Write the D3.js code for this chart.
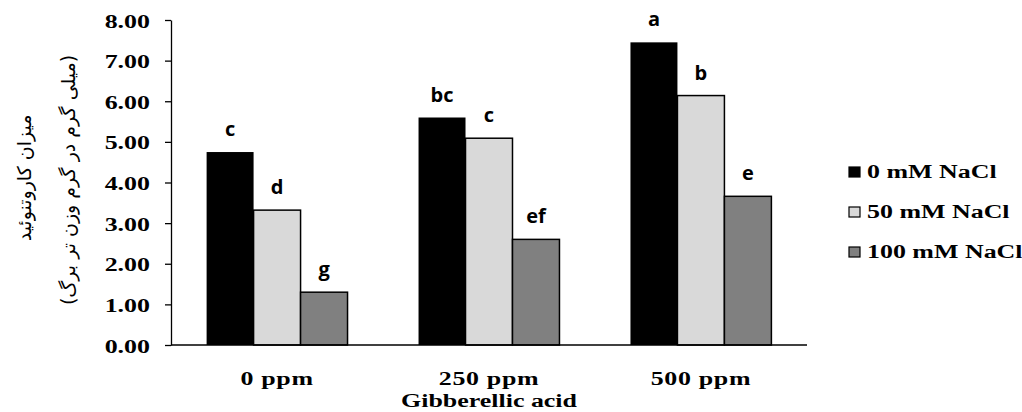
<!DOCTYPE html>
<html>
<head>
<meta charset="utf-8">
<script src="https://cdn.jsdelivr.net/npm/d3@7"></script>
<style>
  body { margin: 0; background: #fff; }
  svg { display: block; }
</style>
</head>
<body>
<svg width="1022" height="412"></svg>
<script>
// data
var groups = ["0 ppm", "250 ppm", "500 ppm"];
var series = ["0 mM NaCl", "50 mM NaCl", "100 mM NaCl"];
var colors = ["#000000", "#d9d9d9", "#808080"];
var values0 = [4.75, 5.60, 7.45];
var values50 = [3.32, 5.09, 6.14];
var values100 = [1.30, 2.60, 3.66];
var letters0 = ["c", "bc", "a"];
var letters50 = ["d", "c", "b"];
var letters100 = ["g", "ef", "e"];
var yTicks = [0, 1, 2, 3, 4, 5, 6, 7, 8];

var allValues = [values0, values50, values100];
var allLetters = [letters0, letters50, letters100];

var rows = [];
series.forEach(function(s, si) {
  groups.forEach(function(g, gi) {
    rows.push({group: g, series: s, si: si, value: allValues[si][gi], letter: allLetters[si][gi]});
  });
});

var sx = 1.33; // the original picture is stretched sideways
var serif = "'Liberation Serif', 'Times New Roman', serif";

var svg = d3.select("svg");

var y = d3.scaleLinear().domain([0, 8]).range([345, 20]);
var x0 = d3.scaleBand().domain(groups).range([171, 807])
  .paddingInner(0.335).paddingOuter(0.168);
var x1 = d3.scaleBand().domain(series).range([0, x0.bandwidth()]);

// bars
svg.append("g").selectAll("rect")
  .data(rows).enter().append("rect")
  .attr("x", function(d) { return x0(d.group) + x1(d.series); })
  .attr("y", function(d) { return y(d.value); })
  .attr("width", x1.bandwidth())
  .attr("height", function(d) { return y(0) - y(d.value); })
  .attr("fill", function(d) { return colors[d.si]; })
  .attr("stroke", "#000")
  .attr("stroke-width", function(d) { return d.si == 0 ? 0 : 1.5; });

// letters over the bars
svg.append("g").selectAll("text")
  .data(rows).enter().append("text")
  .attr("x", function(d) { return x0(d.group) + x1(d.series) + x1.bandwidth() / 2; })
  .attr("y", function(d) { return y(d.value) - 16; })
  .attr("text-anchor", "middle")
  .style("font-family", "'Open Sans', 'DejaVu Sans', sans-serif")
  .style("font-weight", "bold")
  .style("font-size", "20px")
  .text(function(d) { return d.letter; });

// y axis
var yAxis = svg.append("g")
  .attr("transform", "translate(171,0)")
  .call(d3.axisLeft(y).tickValues(yTicks).tickSizeOuter(0).tickPadding(0)
    .tickFormat(d3.format(".2f")));
yAxis.select(".domain").attr("stroke", "#000").attr("stroke-width", 1.3);
yAxis.selectAll(".tick line").attr("stroke", "#000").attr("stroke-width", 1.3);
yAxis.selectAll(".tick text")
  .attr("x", null).attr("dy", null)
  .attr("transform", "translate(-21,7) scale(" + sx + ",1)")
  .style("font-family", serif)
  .style("font-weight", "bold")
  .style("font-size", "19.5px")
  .attr("fill", "#000");

// x axis line
svg.append("line")
  .attr("x1", 171).attr("x2", 807)
  .attr("y1", y(0)).attr("y2", y(0))
  .attr("stroke", "#000").attr("stroke-width", 1.3);

// category labels
svg.append("g").selectAll("text")
  .data(groups).enter().append("text")
  .attr("transform", function(d) {
    return "translate(" + (x0(d) + x0.bandwidth() / 2) + ",385) scale(" + sx + ",1)";
  })
  .attr("text-anchor", "middle")
  .style("font-family", serif)
  .style("font-weight", "bold")
  .style("font-size", "19.5px")
  .style("letter-spacing", "0.5px")
  .text(function(d) { return d; });

svg.append("text")
  .attr("transform", "translate(" + (x0("250 ppm") + x0.bandwidth() / 2) + ",407) scale(" + sx + ",1)")
  .attr("text-anchor", "middle")
  .style("font-family", serif)
  .style("font-weight", "bold")
  .style("font-size", "19.5px")
  .text("Gibberellic acid");

// y titles (Persian)
svg.append("text")
  .attr("transform", "translate(31,178) rotate(-90)")
  .attr("text-anchor", "middle")
  .style("font-family", "'DejaVu Sans', sans-serif")
  .style("font-size", "19px")
  .text("میزان کاروتنوئید");

svg.append("text")
  .attr("transform", "translate(75,180) rotate(-90)")
  .attr("text-anchor", "middle")
  .style("font-family", "'DejaVu Sans', sans-serif")
  .style("font-size", "19px")
  .text("(میلی گرم در گرم وزن تر برگ)");

// legend
var legend = svg.append("g").selectAll("g")
  .data(series).enter().append("g")
  .attr("transform", function(d, i) { return "translate(849," + (167 + i * 40) + ")"; });
legend.append("rect")
  .attr("width", 11).attr("height", 10)
  .attr("fill", function(d, i) { return colors[i]; })
  .attr("stroke", "#000").attr("stroke-width", 1.2);
legend.append("text")
  .attr("transform", "translate(18,11) scale(" + sx + ",1)")
  .style("font-family", serif)
  .style("font-weight", "bold")
  .style("font-size", "19.5px")
  .text(function(d) { return d; });
</script>
</body>
</html>
